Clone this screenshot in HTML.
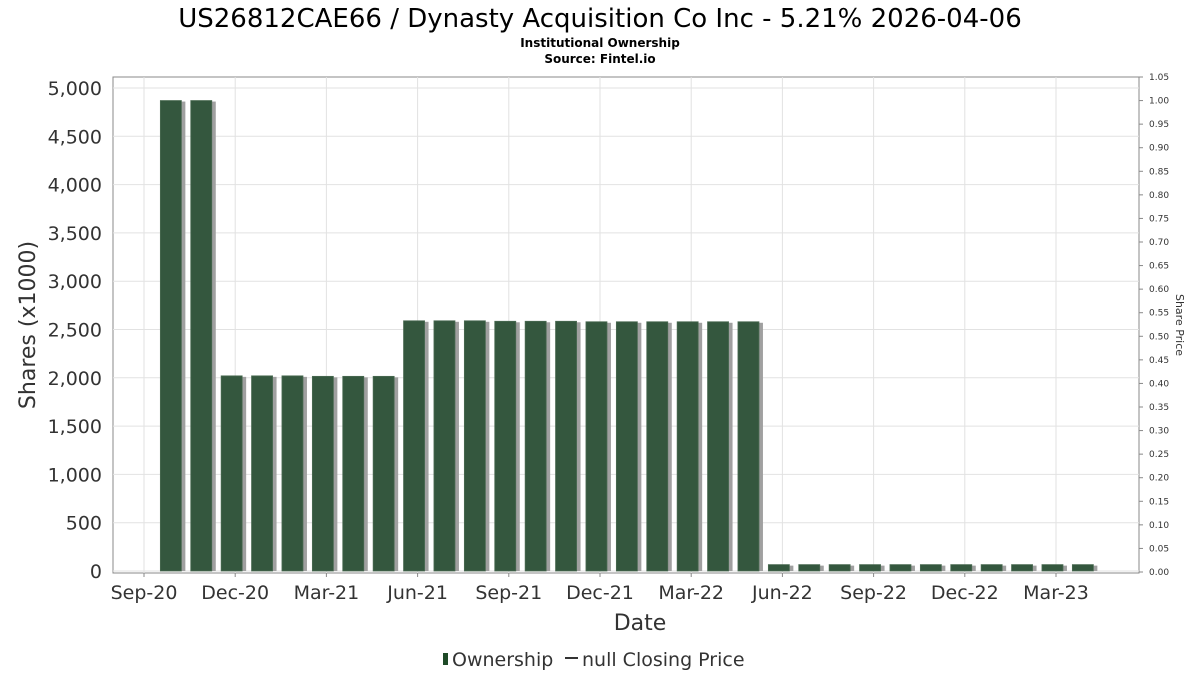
<!DOCTYPE html>
<html><head><meta charset="utf-8"><style>
body{margin:0;background:#fff;}
svg text{font-family:"DejaVu Sans","Liberation Sans",sans-serif;}
</style></head><body>
<svg id="chart" width="1200" height="675" xmlns="http://www.w3.org/2000/svg">
<text x="600" y="27" font-size="26" text-anchor="middle" fill="#000">US26812CAE66 / Dynasty Acquisition Co Inc - 5.21% 2026-04-06</text>
<text x="600" y="47" font-size="12" font-weight="bold" text-anchor="middle">Institutional Ownership</text>
<text x="600" y="63" font-size="12" font-weight="bold" text-anchor="middle">Source: Fintel.io</text>
<rect x="113" y="77" width="1026" height="496" fill="#fff" stroke="#888"/>
<g id="grid"></g><g id="bars"></g><g id="axes"></g>
<text x="640" y="630" font-size="22" text-anchor="middle" fill="#333">Date</text>
<text transform="translate(35,325) rotate(-90)" font-size="22" text-anchor="middle" fill="#333">Shares (x1000)</text>
<text transform="translate(1176,325) rotate(90)" font-size="11" text-anchor="middle" fill="#333">Share Price</text>
<g>
<rect x="443" y="653" width="5" height="12" fill="#1e4a28"/>
<text x="452" y="666" font-size="19" fill="#333">Ownership</text>
<line x1="565" y1="658" x2="578" y2="658" stroke="#333" stroke-width="2"/>
<text x="582" y="666" font-size="19" fill="#333">null Closing Price</text>
</g>
</svg>
<script>
const months = [1,2,3,4,5,6,7,8,9,10,11,12,13,14,15,16,17,18,19,20,21,22,23,24,25,26,27,28,29,30,31];
const shares = [4870,4870,2020,2020,2020,2015,2015,2015,2590,2590,2590,2585,2585,2585,2580,2580,2580,2580,2580,2580,66,66,66,66,66,66,66,66,66,66,66];
const xTickLabels = ["Sep-20","Dec-20","Mar-21","Jun-21","Sep-21","Dec-21","Mar-22","Jun-22","Sep-22","Dec-22","Mar-23"];
const xTickMonths = [0,3,6,9,12,15,18,21,24,27,30];
const yTicks = [0,500,1000,1500,2000,2500,3000,3500,4000,4500,5000];
const priceTicks = [0,0.05,0.1,0.15,0.2,0.25,0.3,0.35,0.4,0.45,0.5,0.55,0.6,0.65,0.7,0.75,0.8,0.85,0.9,0.95,1.0,1.05];
const NS="http://www.w3.org/2000/svg";
const x = m => 144 + m*30.4;
const y = v => 571 - v*0.0966;
const yp = p => 572 - p*(495/1.05);
function mk(tag,attrs,parent,txt){const e=document.createElementNS(NS,tag);for(const k in attrs)e.setAttribute(k,attrs[k]);if(txt!==undefined)e.textContent=txt;parent.appendChild(e);return e;}
const grid=document.getElementById('grid'),bars=document.getElementById('bars'),axes=document.getElementById('axes');
yTicks.forEach(v=>{
  const l=mk('line',{x1:113,x2:1139,y1:y(v),y2:y(v),stroke:'#e2e2e2'},grid);
  
  
  const t=mk('text',{x:102,y:y(v)+7,'font-size':19,'text-anchor':'end',fill:'#333'},axes,v.toLocaleString('en-US'));
  
  
});
xTickMonths.forEach((m,i)=>{
  const l=mk('line',{x1:x(m),x2:x(m),y1:77,y2:573,stroke:'#e2e2e2'},grid);
  
  
  const tk=mk('line',{x1:x(m),x2:x(m),y1:573,y2:577,stroke:'#888'},axes);
  
  
  const t=mk('text',{x:x(m),y:599,'font-size':19,'text-anchor':'middle',fill:'#333'},axes,xTickLabels[i]);
  
  
});
priceTicks.forEach(p=>{
  const t=mk('text',{x:1149,y:yp(p)+3,'font-size':9,fill:'#333'},axes,p.toFixed(2));
  
  
  const tk=mk('line',{x1:1139,x2:1143,y1:yp(p),y2:yp(p),stroke:'#888'},axes);
  
  
});
months.forEach((m,i)=>{
  const cx=x(m-0.1), top=y(shares[i]), h=571-top;
  const s=mk('rect',{x:cx-8,y:top+1,width:22,height:h-1,fill:'#a0a0a0'},bars);
  
  
  const b=mk('rect',{x:cx-11,y:top,width:21,height:h,fill:'#34573e',stroke:'#4a6a52','stroke-width':0.8},bars);
  
  
});
</script>
</body></html>
